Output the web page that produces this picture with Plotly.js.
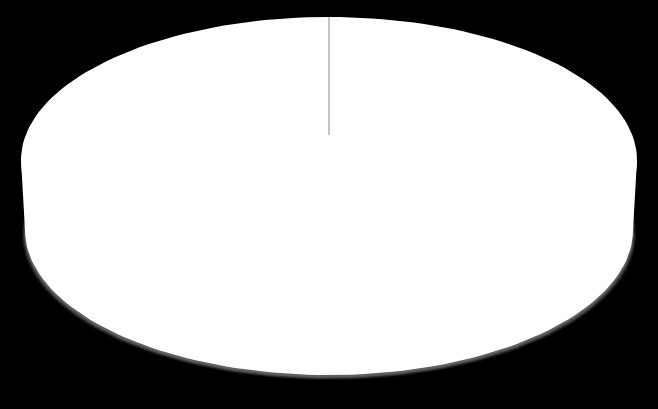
<!DOCTYPE html>
<html>
<head>
<meta charset="utf-8">
<script src="https://cdn.plot.ly/plotly-3.0.1.min.js"></script>
<style>
  html, body { margin: 0; padding: 0; background: #000; }
  #chart { width: 658px; height: 409px; }
</style>
</head>
<body>
<div id="chart"></div>
<script>
// pie data: a single slice taking the whole pie
const categories = ['Series 1'];
const values = [100];
const sliceColors = ['#ffffff'];

// 3d pie geometry (pixel space, y goes down)
const pie = {
    cx: 329,
    topCy: 160, topRx: 308, topRy: 143,
    botCy: 230, botRx: 304, botRy: 145,
    hubY: 135
};

function ellipsePoints(cx, cy, rx, ry, a0, a1, n) {
    // angles measured clockwise from 12 o'clock
    const xs = [], ys = [];
    for (let i = 0; i <= n; i++) {
        const a = a0 + (a1 - a0) * i / n;
        xs.push(cx + rx * Math.sin(a));
        ys.push(cy - ry * Math.cos(a));
    }
    return { xs, ys };
}

function filled(xs, ys, color) {
    return {
        type: 'scatter', mode: 'lines', x: xs, y: ys,
        fill: 'toself', fillcolor: color,
        line: { width: 0, color: color },
        hoverinfo: 'skip', showlegend: false
    };
}

const traces = [];

// soft shadow under the pie, pushed down and out
const shadows = [
    { gx: 3, dy: 5, c: 'rgba(150,150,150,0.12)' },
    { gx: 2, dy: 4, c: 'rgba(150,150,150,0.22)' },
    { gx: 1, dy: 3, c: 'rgba(130,130,130,0.40)' },
    { gx: 0, dy: 2, c: 'rgba(110,110,110,0.55)' }
];
for (const s of shadows) {
    const e = ellipsePoints(pie.cx, pie.botCy + s.dy, pie.botRx + s.gx, pie.botRy, 0, 2 * Math.PI, 180);
    traces.push(filled(e.xs, e.ys, s.c));
}

const total = values.reduce((a, b) => a + b, 0);
let start = 0;
const edges = [];
values.forEach((v, i) => {
    const a0 = start / total * 2 * Math.PI;
    const a1 = (start + v) / total * 2 * Math.PI;
    start += v;
    edges.push(a0);

    // side wall: bottom rim, then top rim, joined
    const bot = ellipsePoints(pie.cx, pie.botCy, pie.botRx, pie.botRy, a0, a1, 180);
    traces.push(filled(bot.xs, bot.ys, sliceColors[i]));
    const wallX = [pie.cx - pie.topRx, pie.cx - pie.botRx, pie.cx + pie.botRx, pie.cx + pie.topRx];
    const wallY = [pie.topCy, pie.botCy, pie.botCy, pie.topCy];
    traces.push(filled(wallX, wallY, sliceColors[i]));

    // top face
    const top = ellipsePoints(pie.cx, pie.topCy, pie.topRx, pie.topRy, a0, a1, 180);
    const tx = [pie.cx].concat(top.xs, [pie.cx]);
    const ty = [pie.hubY].concat(top.ys, [pie.hubY]);
    traces.push(filled(tx, ty, sliceColors[i]));
});

// slice edges from the hub to the rim
for (const a of edges) {
    const rim = ellipsePoints(pie.cx, pie.topCy, pie.topRx, pie.topRy, a, a, 1);
    traces.push({
        type: 'scatter', mode: 'lines',
        x: [pie.cx, rim.xs[0]], y: [pie.hubY, rim.ys[0]],
        line: { color: '#888888', width: 1 },
        hoverinfo: 'skip', showlegend: false
    });
}

const layout = {
    width: 658, height: 409,
    margin: { l: 0, r: 0, t: 0, b: 0 },
    paper_bgcolor: '#000000',
    plot_bgcolor: '#000000',
    showlegend: false,
    xaxis: { range: [0, 658], visible: false, fixedrange: true },
    yaxis: { range: [409, 0], visible: false, fixedrange: true }
};

Plotly.newPlot('chart', traces, layout, { displayModeBar: false, staticPlot: true });
</script>
</body>
</html>
